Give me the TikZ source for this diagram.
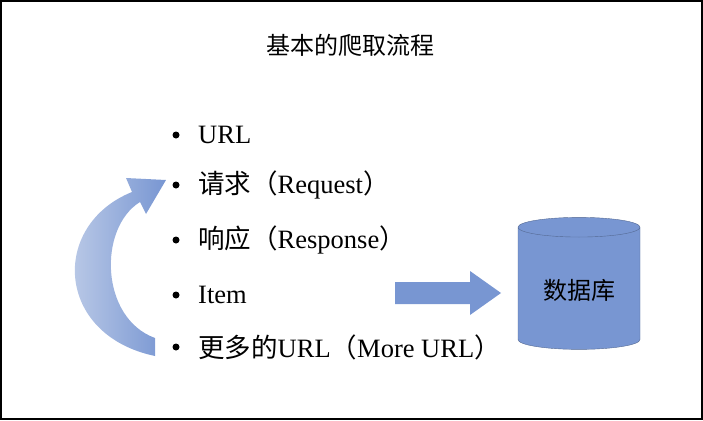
\documentclass[tikz,border=0pt]{standalone}
\usepackage{fontspec}
\setmainfont{Liberation Serif}
\newfontfamily\cjk{Noto Sans CJK SC}
\usetikzlibrary{shapes.geometric, positioning}
\definecolor{arrowblue}{RGB}{120,150,210}
\definecolor{paleblue}{RGB}{200,212,235}
\tikzset{
  item/.style={anchor=west, font=\fontsize{26.5}{30}\selectfont, inner sep=0pt},
  dot/.style={circle, fill=black, inner sep=0pt, minimum size=7pt}
}
\begin{document}
\begin{tikzpicture}[x=1pt,y=-1pt]
  \useasboundingbox (0,0) rectangle (703,420);
  \draw[line width=1.5pt] (1,1) rectangle (702,419);
  \node[font=\cjk\fontsize{24}{28}\selectfont] (title) at (350,45) {基本的爬取流程};
  % bullet list
  \foreach \y/\txt [count=\i] in {135/URL,
      185/{{\cjk 请求（}Request{\cjk ）}},
      240/{{\cjk 响应（}Response{\cjk ）}},
      295/Item,
      347/{{\cjk 更多的}URL{\cjk （}More URL{\cjk ）}}} {
    \node[dot] (dot\i) at (176,\y) {};
    \node[item] (row\i) at (198,\y) {\txt};
  }
  % loop arrow
  \shade[left color=paleblue, right color=arrowblue]
    (155,356) .. controls (55,335) and (50,225) .. (132,192)
    -- (126,178) -- (166,180) -- (146,214) -- (140,202)
    .. controls (98,228) and (100,318) .. (155,338) -- cycle;
  % database
  \node[cylinder, shape border rotate=90, aspect=0.25, minimum width=122pt,
        minimum height=132pt, draw=arrowblue!70!black, fill=arrowblue,
        font=\cjk\fontsize{24}{28}\selectfont] (db) at (579,290) {数据库};
  \coordinate (toDb) at (395,293);
  \fill[arrowblue] (toDb) ++(0,-11) -- ++(75,0) -- ++(0,-11) -- ++(31,22)
    -- ++(-31,22) -- ++(0,-11) -- ++(-75,0) -- cycle;
\end{tikzpicture}
\end{document}
